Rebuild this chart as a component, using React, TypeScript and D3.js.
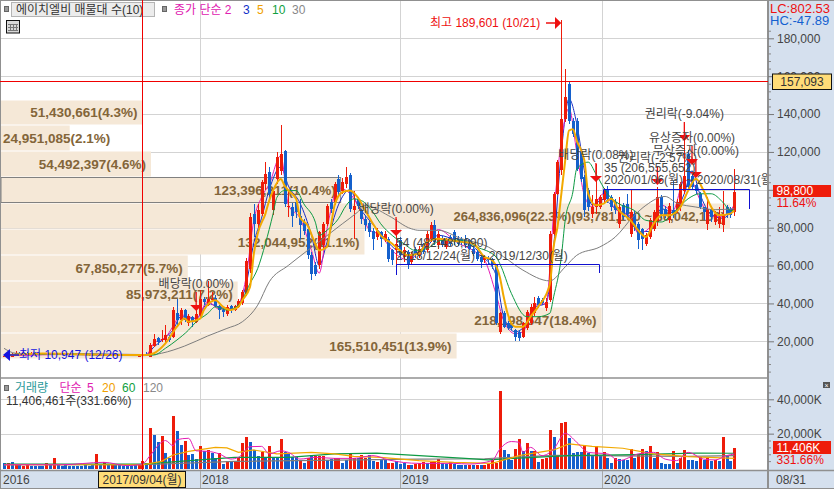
import { useEffect, useRef } from 'react';
import * as d3 from 'd3';

// weekly candles, thousand won
const opens = [
  12.0, 12.4, 11.9, 13.2, 14.0, 13.4, 13.9, 13.5, 13.9, 13.3,
  13.8, 13.4, 13.7, 13.2, 13.6, 13.2, 13.5, 13.0, 13.4, 13.0,
  13.3, 12.8, 13.2, 12.7, 13.1, 12.6, 13.0, 12.6, 12.9, 12.5,
  12.8, 12.4, 12.7, 12.3, 12.6, 12.3, 12.5, 13.5, 11.9, 17.5,
  21.5, 20.7, 20.7, 22.4, 22.4, 34.7, 31.2, 36.5, 29.4, 33.0,
  30.3, 33.8, 42.6, 39.0, 41.8, 43.1, 38.6, 36.5, 34.4, 38.6,
  36.5, 38.2, 40.0, 45.2, 58.0, 87.3, 82.1, 87.3, 103, 109.2,
  89.1, 105.7, 110.1, 120.3, 90.8, 90.8, 93.5, 86.4, 82.9, 79.4,
  65.4, 60.1, 60.1, 70.7, 82.1, 93.5, 93.5, 105.7, 99.6, 103.1,
  108, 89.1, 95.2, 89.1, 84.7, 82.4, 78.5, 75, 77.7, 74.2,
  74.2, 68, 68.1, 73.4, 64.6, 67.2, 62, 69, 65.5, 70.7,
  68.1, 74.2, 81.2, 70.7, 74.2, 69.8, 75, 77.7, 74.2, 74.2,
  74.2, 73.4, 69, 67.2, 64.6, 62.8, 63.7, 62.8, 60.2, 25.1,
  34.8, 29.5, 28.6, 26, 25.1, 22.5, 26.9, 29.5, 34.8, 42.7,
  41.8, 37.4, 42, 76.9, 97.9, 110.2, 137.4, 155.8, 136.5, 136.5,
  120.7, 106.7, 99.7, 87.4, 90.9, 90.9, 94.4, 100.6, 96.2, 93.6,
  82.2, 91.8, 92.7, 76.9, 87.4, 82.2, 79.5, 71.6, 75, 79.5,
  83, 96.1, 90, 83.9, 89.1, 89.1, 90.9, 99.6, 118.9, 107.5,
  102.3, 97.9, 90.9, 82.1, 90, 83, 81.8, 81.2, 90.9, 90,
  88.2,
];
const closes = [
  12.4, 11.8, 13.2, 14.0, 13.4, 13.9, 13.5, 13.9, 13.3, 13.8,
  13.4, 13.7, 13.2, 13.6, 13.2, 13.5, 13.0, 13.4, 13.0, 13.3,
  12.8, 13.2, 12.7, 13.1, 12.6, 13.0, 12.6, 12.9, 12.5, 12.8,
  12.4, 12.7, 12.3, 12.6, 12.3, 12.5, 12.8, 13.0, 18.0, 21.0,
  19.8, 21.4, 23.3, 20.7, 36.5, 31.5, 36.5, 31.2, 33.3, 30.3,
  34.4, 42.6, 40.8, 42.6, 42.6, 38.6, 36.5, 35.6, 38.2, 36.5,
  38.6, 41.4, 46.1, 62.4, 85.9, 82.1, 89.4, 104, 108.4, 97.9,
  99.6, 117.1, 118.9, 92.6, 91.7, 86.4, 88.2, 81.2, 78.5, 65.4,
  55.7, 55.7, 77.7, 82.1, 91.7, 90, 103.1, 98.7, 104, 106.6,
  90, 91.7, 91.7, 84.7, 81.2, 77.7, 74.2, 78.5, 74.2, 76.8,
  63.6, 62.8, 71.6, 65.5, 68.1, 61, 65.5, 65.5, 69, 67.2,
  76.9, 81.2, 72.5, 76.9, 71.6, 73.4, 71.6, 72.5, 71.6, 72.5,
  70.7, 69, 66.3, 63.7, 62, 64.6, 62.8, 60.2, 29.5, 34.8,
  27.7, 26.9, 26.9, 22.5, 21.6, 29.5, 35.6, 38.3, 40, 39.2,
  40, 40.9, 76.9, 97.9, 114.6, 137.4, 148.8, 136.5, 129.5, 111.1,
  105.8, 89.2, 90.9, 90.9, 95.3, 96.2, 99.7, 95.3, 90.9, 89.2,
  90.9, 85.7, 87.4, 88.3, 80.4, 73.4, 74, 76, 84, 88.2,
  96.1, 87.4, 86.5, 91.7, 86.5, 93.5, 103.2, 107.5, 101.4, 101.4,
  99.6, 90.9, 88.2, 90, 85.6, 87.4, 85.6, 86.5, 86.5, 86.5,
  98.8,
];
const highs = [
  12.9, 13.0, 13.8, 14.8, 14.6, 14.5, 14.3, 14.2, 14.1, 14.0,
  14.0, 14.0, 13.9, 13.8, 13.8, 13.7, 13.6, 13.6, 13.5, 13.5,
  13.4, 13.4, 13.3, 13.3, 13.2, 13.2, 13.1, 13.1, 13.0, 13.0,
  12.9, 12.9, 12.8, 12.8, 12.8, 12.7, 13.4, 14.2, 18.9, 23.8,
  22.4, 25.9, 28.6, 23.5, 38.2, 42.6, 37.5, 37, 34.5, 33.5,
  38.2, 47, 43.5, 51.9, 46, 44.5, 39, 37.5, 39, 39,
  39.2, 42.5, 47, 64, 88, 92.6, 92.6, 105, 114.5, 112,
  100.5, 120, 134.3, 121, 99.6, 93, 95.5, 95.2, 84.5, 80,
  67, 62, 78, 83, 92.5, 95, 104, 108, 106, 111.9,
  109, 99.6, 96, 90, 86, 83.5, 80, 80, 78.5, 78,
  75, 69, 84.8, 75, 70, 68, 67, 70, 70.5, 72,
  78, 83, 83.9, 78, 75.5, 74.5, 76, 79, 75.5, 75,
  76, 74, 70, 68, 65.5, 65.5, 65, 64, 61, 35.5,
  36, 30.5, 29.5, 26.5, 26, 30, 36.5, 39.5, 43.5, 44,
  43, 43, 78, 99, 116, 189.6, 163.9, 157.5, 138, 138,
  121.5, 108, 101, 97, 113.7, 97, 101, 102, 97.5, 95,
  96.2, 93, 97.9, 99.7, 89, 83, 80, 77, 85, 89.5,
  101.4, 97, 91.5, 93, 104.9, 95, 104, 134.7, 121, 110,
  103, 99, 91, 96.1, 91, 89, 90.9, 99.6, 92, 91,
  111,
];
const lows = [
  11.5, 10.9, 11.6, 12.8, 13.0, 13.1, 13.2, 13.2, 13.1, 13.0,
  13.2, 13.1, 13.0, 13.0, 13.0, 13.0, 12.8, 12.9, 12.8, 12.8,
  12.6, 12.6, 12.5, 12.5, 12.4, 12.4, 12.4, 12.4, 12.3, 12.3,
  12.2, 12.2, 12.0, 12.0, 12.1, 12.0, 12.3, 12.8, 11.5, 16.8,
  18, 19.5, 18.9, 19.8, 21.5, 27.7, 28.5, 30, 28.2, 27.7,
  29.5, 33, 39, 38.5, 41, 38, 32, 32.6, 33.5, 35,
  36, 37.5, 39, 44, 56, 75, 80, 86, 100, 95,
  86.5, 103, 108, 91, 85.6, 80.3, 85, 74.2, 76, 63.5,
  52.2, 54.5, 58, 69, 81, 88, 92, 97, 98, 101,
  88.5, 74.2, 90, 82, 78, 75, 68, 73.5, 70, 72.5,
  62, 60.1, 60, 63, 62, 58.4, 60.5, 64, 64, 66,
  67, 72.5, 71, 69, 70, 68.5, 70.5, 71, 70.5, 71,
  69.5, 68, 65, 62.5, 58.5, 61.5, 61, 58, 28.5, 24,
  27, 26, 26, 19.9, 20, 21.5, 26, 28.5, 33.5, 37.5,
  39, 36, 41, 76, 97, 108, 136, 135, 128, 110,
  104, 85.7, 89, 85, 87, 90, 93, 93, 89, 87,
  80, 84, 85, 75, 78, 69, 68, 70.5, 74, 78,
  81, 85, 85, 82.5, 85, 88, 89, 98, 100, 100,
  98, 90, 84, 79, 83, 81.5, 80, 77.7, 85, 85,
  86,
];

// weekly volume, million shares
const volumes = [
  2.9, 2.7, 3.3, 1.9, 1.9, 1.2, 1.7, 1.4, 1.4, 1.4,
  1.2, 2.7, 2.3, 5.8, 1.9, 1.4, 1.6, 1.2, 1.4, 1.2,
  1.4, 1.6, 1.4, 1.7, 8.2, 2.3, 3.3, 2.3, 1.9, 1.6,
  1.6, 1.2, 1.2, 1.0, 1.9, 1.6, 4.3, 2.7, 23.3, 19.2,
  15.0, 18.7, 8.7, 5.8, 30.3, 21.6, 13.4, 15.6, 7.6, 8.2,
  5.2, 12.8, 9.7, 10.5, 8.6, 5.8, 8.6, 2.3, 3.9, 3.3,
  3.7, 5.8, 14.6, 18.1, 15.2, 10.5, 7.0, 9.1, 6.2, 12.8,
  6.6, 6.6, 16.9, 9.1, 8.2, 6.2, 6.2, 4.7, 2.9, 5.8,
  7.8, 7.2, 7.2, 7.2, 4.9, 5.1, 5.8, 5.8, 2.7, 4.9,
  8.2, 5.8, 5.8, 7.8, 5.8, 7.4, 4.3, 3.5, 4.7, 4.7,
  3.1, 3.1, 3.9, 2.3, 2.7, 1.6, 1.9, 2.3, 2.7, 3.3,
  2.9, 3.5, 3.9, 5.2, 2.9, 2.5, 3.3, 2.3, 1.9, 1.7,
  1.6, 1.9, 1.6, 1.6, 1.7, 1.9, 2.3, 4.9, 2.9, 45.1,
  10.5, 8.2, 4.9, 11.1, 16.9, 9.7, 14.6, 9.7, 9.7, 3.5,
  5.4, 5.8, 22.2, 18.1, 6.8, 26.2, 26.8, 17.5, 8.7, 9.1,
  9.3, 13.4, 8.6, 6.8, 12.8, 6.8, 9.3, 5.8, 2.7, 5.8,
  5.1, 4.9, 4.7, 10.9, 5.8, 7.8, 11.1, 9.7, 12.8, 5.8,
  9.1, 2.9, 2.3, 2.3, 9.7, 2.9, 5.8, 10.5, 4.9, 4.5,
  3.9, 6.2, 4.7, 5.8, 3.9, 4.7, 4.3, 17.9, 7.0, 4.3,
  11.406,
];
const redVolumeWeeks = [
  1, 3, 5, 6, 11, 13, 24, 26, 28, 35, 36, 38, 41, 44, 47, 51, 53, 56, 58, 60, 61, 62, 63, 67, 69, 72, 77, 79, 81, 82, 83,
  86, 87, 90, 91, 93, 94, 97, 100, 101, 105, 107, 108, 109, 111, 112, 113, 116, 121, 123, 125, 126, 127, 128, 129, 133, 134,
  136, 138, 140, 141, 142, 144, 145, 146, 151, 154, 156, 159, 163, 165, 166, 168, 170, 174, 176, 177, 181, 183, 185, 187, 190,
];

// price moving averages at these weeks
const ma5Weeks = [0, 10, 20, 30, 37, 39, 42, 45, 47, 48, 51, 52, 55, 57, 59, 61, 62, 64, 65, 66, 68, 69, 70, 72, 73, 74, 76, 77, 79, 81, 82, 84, 85, 86, 88, 90, 92, 94, 96, 98, 101, 103, 105, 108, 110, 113, 116, 119, 122, 125, 127, 129, 130, 131, 133, 135, 137, 139, 142, 143, 144, 145, 146, 147, 148, 149, 151, 152, 154, 156, 158, 160, 163, 165, 167, 169, 171, 173, 176, 178, 180, 182, 184, 186, 189, 190];
const ma5 = [12.5, 13.6, 13.2, 12.7, 12.8, 13.7, 18.9, 27.7, 32, 30.3, 32, 36.5, 41.7, 38.2, 36.5, 38.2, 41.7, 48.7, 66.3, 76.8, 87.3, 94.3, 99.6, 105.7, 102.2, 99.6, 95.2, 85.6, 81.2, 71.5, 68, 69.8, 80.3, 91.7, 98.7, 99.6, 96.1, 89.1, 82.1, 75.9, 71.5, 68, 65.5, 66.3, 72.5, 74.2, 73.4, 72.5, 71.6, 64.6, 62.8, 54, 43.5, 34.8, 27.7, 27.7, 33, 38.3, 50, 70, 80.4, 97.9, 115.4, 131.3, 132, 126, 115.5, 97.9, 91.8, 92.7, 95.3, 89.2, 83.9, 78.6, 75.1, 82, 86.5, 86.5, 90.9, 99.6, 105.8, 99.6, 90.9, 86.5, 87.4, 89.1];
const ma10Weeks = [0, 15, 30, 37, 39, 42, 45, 48, 50, 53, 55, 58, 61, 64, 66, 68, 70, 71, 73, 76, 78, 81, 82, 84, 87, 89, 91, 93, 96, 98, 101, 104, 107, 110, 114, 119, 123, 128, 129, 132, 136, 139, 142, 143, 145, 146, 148, 149, 152, 154, 157, 160, 164, 167, 171, 174, 178, 181, 184, 187, 189, 190];
const ma10 = [13, 13.4, 13, 12.9, 12.8, 16.3, 20.7, 25.9, 30.3, 34.7, 38.2, 36.5, 39.1, 50.5, 58.4, 71.5, 87.3, 96, 99.6, 99.6, 92.6, 82.9, 75.9, 78.6, 84.7, 91.7, 95.2, 94.3, 88.2, 82.1, 75.9, 71.6, 68, 69, 73.4, 73.4, 69.8, 64.6, 61, 45.3, 33, 33, 34.8, 43.5, 64.6, 83.9, 98.8, 111, 114.6, 108.4, 97.9, 92.6, 89.1, 83.9, 83, 87.4, 95.3, 97.9, 97.9, 93.5, 89.1, 89];
const ma30Weeks = [0, 3, 20, 36, 41, 47, 53, 58, 62, 66, 69, 74, 79, 83, 88, 92, 94, 100, 106, 108, 113, 119, 126, 130, 135, 142, 146, 149, 155, 159, 164, 167, 172, 175, 180, 185, 190];
const ma30 = [16.3, 13.7, 12.8, 12.4, 13.7, 17.5, 22.8, 26.8, 30.3, 39.1, 51.4, 60.1, 68, 74.2, 82, 88.2, 91.7, 86.4, 79.4, 78.6, 78.6, 74.2, 69.8, 64.6, 57.6, 51.9, 59.3, 65.4, 69.8, 75, 86.5, 91.8, 96.5, 93, 90.9, 89.5, 90];
const ma3Weeks = [0, 20, 37, 39, 42, 44, 46, 50, 53, 56, 60, 63, 65, 67, 69, 72, 74, 77, 80, 82, 84, 87, 90, 92, 95, 98, 101, 105, 110, 113, 118, 122, 125, 128, 130, 133, 135, 138, 141, 143, 145, 147, 149, 151, 153, 156, 159, 163, 165, 168, 171, 174, 177, 179, 181, 184, 187, 190];
const ma3 = [12.5, 13.3, 13, 17, 22, 26, 33, 32, 40, 38, 37, 50, 72, 85, 100, 112, 102, 93, 76, 60, 72, 92, 100, 92, 84, 77, 70, 65, 70, 76, 73, 70, 64, 55, 33, 25, 27, 38, 40, 70, 120, 148, 135, 110, 92, 95, 90, 85, 78, 78, 90, 88, 98, 110, 98, 87, 85, 91];
const ma2Weeks = [0, 20, 37, 39, 42, 44, 46, 50, 53, 56, 60, 63, 65, 67, 69, 72, 74, 77, 80, 82, 84, 87, 90, 92, 95, 98, 101, 105, 110, 113, 118, 122, 125, 128, 130, 133, 135, 138, 141, 143, 145, 147, 149, 151, 153, 156, 159, 163, 165, 168, 171, 174, 177, 179, 181, 184, 187, 190];
const ma2 = [12.3, 13.1, 13, 19, 22, 28, 34, 32, 41, 37, 37, 54, 84, 96, 103, 118, 92, 85, 68, 56, 79, 101, 98, 92, 79, 76, 68, 63, 72, 79, 72, 68, 63, 45, 31, 24, 25, 39, 40, 87, 126, 143, 120, 97, 91, 98, 90, 86, 77, 80, 92, 89, 105, 104, 95, 86, 86, 92];

// volume moving averages, million shares
const volMa5Weeks = [0, 15, 26, 32, 36, 38, 41, 42, 44, 45, 48, 50, 53, 56, 59, 61, 64, 67, 69, 72, 74, 77, 81, 86, 91, 96, 100, 108, 117, 121, 127, 129, 132, 134, 135, 137, 140, 143, 146, 149, 152, 157, 160, 165, 169, 172, 175, 178, 182, 185, 188, 190];
const volMa5 = [1.9, 1.9, 3.3, 1.4, 2.3, 7.2, 15, 16, 13, 16.5, 17.3, 10, 9.7, 8.2, 5.2, 6.2, 12.4, 12.6, 8.2, 10, 9.1, 5.2, 6.2, 5.6, 5.6, 7.2, 4.7, 2.7, 2.7, 2.3, 4.3, 11, 15.4, 15, 9.1, 12, 7.2, 11, 20.2, 15, 9.1, 8.2, 4.3, 8.2, 9.1, 5.2, 4.3, 9.1, 5.2, 4.7, 7.2, 8.2];
const volMa20Weeks = [0, 36, 41, 44, 48, 55, 58, 61, 65, 71, 80, 86, 91, 98, 108, 117, 127, 134, 143, 147, 153, 161, 169, 178, 190];
const volMa20 = [1.9, 1.9, 3.9, 7.6, 9.7, 12, 11.7, 9.1, 10.5, 8.2, 9.1, 8.2, 6.8, 6.2, 4.3, 3.3, 2.7, 7.2, 10.5, 14, 12.6, 11.5, 8.2, 6.6, 5.6];
const volMa60Weeks = [0, 36, 51, 60, 74, 86, 97, 108, 120, 126, 134, 147, 164, 180, 190];
const volMa60 = [2.3, 2.3, 4.7, 6.2, 6.2, 8.2, 8.7, 7.2, 5.6, 4.7, 5.8, 7.2, 7.8, 8.7, 8.6];
const volMa120Weeks = [0, 36, 60, 108, 125, 143, 178, 190];
const volMa120 = [1.9, 1.9, 3.9, 5.2, 5.4, 7.4, 6.8, 7.2];

// volume profile, bottom band first
const bandEdges = [10.7, 24.4, 38.1, 51.8, 65.6, 79.3, 93.0, 106.8, 120.5, 134, 147.5];
const bandVolumes = [165.510451, 218.198547, 85.973211, 67.850277, 132.044952, 264.836096, 123.396211, 54.492397, 24.951085, 51.430661];
const bandLabels = [
  '165,510,451(13.9%)', '218,198,547(18.4%)', '85,973,211(7.2%)', '67,850,277(5.7%)', '132,044,952(11.1%)',
  '264,836,096(22.3%)(93,781,100 ~ 80,042,100)', '123,396,211(10.4%)', '54,492,397(4.6%)', '24,951,085(2.1%)', '51,430,661(4.3%)',
];

const priceTicks = [20, 40, 60, 80, 100, 120, 140, 160, 180];
const priceMinorTicks = d3.range(4, 192, 4);
const volumeTicks = [20, 40];
const volumeMinorTicks = d3.range(4, 52, 4);
const yearWeeks = [51, 103, 155.6];
const yearLabels = ['2018', '2019', '2020'];

const eventLabels = ['배당락(0.00%)', '배당락(0.00%)', '배당락(0.08%)', '권리락(-2.57%)', '권리락(-9.04%)', '유상증자(0.00%)', '무상증자(0.00%)'];
const eventWeeks = [50, 102, 154, 170, 177, 179, 180];

const FONT = '"Liberation Sans","Noto Sans CJK KR",sans-serif';
const RED = '#ee1c0a';
const BLUE = '#1460cc';
const PANEL = '#d5e0ee';
const WIDTH = 834;
const HEIGHT = 489;
const PLOT_RIGHT = 768;

export default function App() {
  const svgRef = useRef<SVGSVGElement>(null);

  useEffect(() => {
    if (!svgRef.current) return;

    const svg = d3.select(svgRef.current);
    svg.selectAll('*').remove();
    svg.attr('width', WIDTH).attr('height', HEIGHT).style('font-family', FONT);

    const x = d3.scaleLinear().domain([0, opens.length - 1]).range([4, 734.3]);
    const y = d3.scaleLinear().domain([20, 180]).range([341.3, 38.3]);
    const yVol = d3.scaleLinear().domain([0, 40]).range([468, 399.3]);
    const bandX = d3.scaleLinear().domain([0, 264.836096]).range([0, 729]);

    const label = (
      text: string, tx: number, ty: number, color: string,
      size = 12, anchor = 'start', weight = 'normal',
    ) => svg.append('text')
      .attr('x', tx).attr('y', ty + size * 0.36)
      .attr('fill', color).attr('font-size', size)
      .attr('font-weight', weight).attr('text-anchor', anchor)
      .text(text);

    const hline = (x1: number, x2: number, ly: number, color: string, w = 1) => svg.append('line')
      .attr('x1', x1).attr('x2', x2).attr('y1', ly).attr('y2', ly)
      .attr('stroke', color).attr('stroke-width', w);
    const vline = (lx: number, y1: number, y2: number, color: string, w = 1) => svg.append('line')
      .attr('x1', lx).attr('x2', lx).attr('y1', y1).attr('y2', y2)
      .attr('stroke', color).attr('stroke-width', w);

    svg.append('rect').attr('width', WIDTH).attr('height', HEIGHT).attr('fill', '#fff');

    // grid
    priceTicks.forEach(t => hline(0, PLOT_RIGHT, Math.round(y(t)) + 0.5, '#d3d3d3'));
    volumeTicks.forEach(t => hline(0, PLOT_RIGHT, Math.round(yVol(t)) + 0.5, '#d3d3d3'));
    yearWeeks.forEach(w => vline(Math.round(x(w)) + 0.5, 0, 470, '#d3d3d3'));

    // volume profile bands sit on the grid and under the candles
    bandVolumes.forEach((v, i) => {
      const top = Math.round(y(bandEdges[i + 1]));
      const bottom = Math.round(y(bandEdges[i]));
      svg.append('rect')
        .attr('x', 1).attr('y', top + 0.5)
        .attr('width', bandX(v)).attr('height', bottom - top - 1)
        .attr('fill', '#f5e8d7')
        .attr('stroke', i === 6 ? '#808080' : 'none');
    });
    bandVolumes.forEach((v, i) => {
      const mid = (y(bandEdges[i + 1]) + y(bandEdges[i])) / 2;
      const w = bandX(v);
      const size = i === 5 ? 13 : 13.5;
      if (w < 100) label(bandLabels[i], 3, mid, '#836539', size, 'start', 'bold');
      else label(bandLabels[i], w - 4, mid, '#836539', size, 'end', 'bold');
    });

    const drawMa = (weeks: number[], values: number[], scale: d3.ScaleLinear<number, number>, color: string, w = 1, curved = true) => {
      const line = d3.line<number>()
        .x(d => x(d))
        .y((_, i) => scale(values[i]))
        .curve(curved ? d3.curveMonotoneX : d3.curveLinear);
      svg.append('path').attr('d', line(weeks))
        .attr('fill', 'none').attr('stroke', color).attr('stroke-width', w);
    };

    drawMa(ma3Weeks, ma3, y, '#1a2cc4');
    drawMa(ma2Weeks, ma2, y, '#e41cb4');

    // candles
    const candles = svg.append('g').attr('shape-rendering', 'crispEdges');
    opens.forEach((o, i) => {
      const c = closes[i];
      const color = c >= o ? RED : BLUE;
      const cx = Math.round(x(i));
      candles.append('line')
        .attr('x1', cx + 0.5).attr('x2', cx + 0.5)
        .attr('y1', y(highs[i])).attr('y2', y(lows[i]))
        .attr('stroke', color);
      candles.append('rect')
        .attr('x', cx - 1).attr('width', 3)
        .attr('y', y(Math.max(o, c)))
        .attr('height', Math.max(1, Math.abs(y(o) - y(c))))
        .attr('fill', color);
    });

    drawMa(ma30Weeks, ma30, y, '#7d7d7d');
    drawMa(ma10Weeks, ma10, y, '#0e9a44');
    drawMa(ma5Weeks, ma5, y, '#f2a900', 2);

    // high and low callouts
    label('최고 189,601 (10/21)', 430, 23, '#ee1010');
    hline(546, 555, 23, '#ee1010', 1.5);
    svg.append('path').attr('fill', '#ee1010')
      .attr('d', d3.line()([[555, 17], [x(145), 23], [555, 29]]) + 'Z');
    label('최저 10,947 (12/26)', 19, 355, '#1414e0');
    hline(10, 19, 355, '#1414e0', 1.5);
    svg.append('path').attr('fill', '#1414e0')
      .attr('d', d3.line()([[10, 349], [x(0) - 1, 355], [10, 361]]) + 'Z');

    // corporate events
    const eventLabelY = [284, 209, 155, 158, 114, 138, 151];
    eventLabels.forEach((text, i) => {
      const ex = x(eventWeeks[i]);
      const ly = eventLabelY[i];
      vline(ex, ly + 8, ly + 24, '#ee1010', 1.3);
      svg.append('path').attr('fill', '#ee1010')
        .attr('d', d3.line()([[ex - 6, ly + 21], [ex + 6, ly + 21], [ex, ly + 27]]) + 'Z');
      label(text, ex, ly, '#454545', 12, 'middle');
    });

    // selected ranges
    label('54 (482,480,090)', 396, 243, '#454545');
    label('2018/12/24(월) ~ 2019/12/30(월)', 396, 256, '#454545');
    svg.append('path').attr('fill', 'none').attr('stroke', '#1010d0')
      .attr('d', d3.line()([[396.5, 275], [396.5, 264.5], [599.5, 264.5], [599.5, 273]]));
    label('35 (206,555,652)', 604, 168, '#454545');
    label('2020/01/06(월) ~ 2020/08/31(월)', 604, 180, '#454545');
    svg.append('path').attr('fill', 'none').attr('stroke', '#1010d0')
      .attr('d', d3.line()([[603.5, 194], [603.5, 189.5], [749.5, 189.5], [749.5, 209]]));

    // volume bars
    const redWeeks = new Set(redVolumeWeeks);
    const volBars = svg.append('g').attr('shape-rendering', 'crispEdges');
    volumes.forEach((v, i) => {
      const cx = Math.round(x(i));
      volBars.append('rect')
        .attr('x', cx - 1).attr('width', 3)
        .attr('y', yVol(v)).attr('height', 469 - yVol(v))
        .attr('fill', redWeeks.has(i) ? RED : BLUE);
    });
    drawMa(volMa120Weeks, volMa120, yVol, '#7d7d7d', 1.2, false);
    drawMa(volMa60Weeks, volMa60, yVol, '#0e9a44', 1.2, false);
    drawMa(volMa20Weeks, volMa20, yVol, '#f2a900', 1.2, false);
    drawMa(volMa5Weeks, volMa5, yVol, '#e41cb4', 1, true);

    // top legends
    svg.append('rect').attr('x', 11.5).attr('y', 2.5).attr('width', 143).attr('height', 14)
      .attr('fill', '#ececec').attr('stroke', '#b4b4b4');
    label('에이치엘비 매물대 수(10)', 16, 9.5, '#333');
    [4, 162].forEach(sx => svg.append('rect').attr('x', sx + 0.5).attr('y', 6.5).attr('width', 4).attr('height', 5)
      .attr('fill', '#999').attr('stroke', '#666'));
    label('종가 단순 2', 174, 9.5, '#e020b0');
    label('3', 243, 9.5, '#1030c8');
    label('5', 257, 9.5, '#f0a000');
    label('10', 272, 9.5, '#10a040');
    label('30', 292, 9.5, '#888');

    svg.append('rect').attr('x', 6.5).attr('y', 20.5).attr('width', 13).attr('height', 12.5)
      .attr('fill', '#d8d8d8').attr('stroke', '#111');
    [24, 27, 30].forEach(ly => hline(8, 18, ly + 0.5, '#777'));
    [10, 13, 16].forEach(lx => vline(lx + 0.5, 24, 31, '#777'));

    svg.append('rect').attr('x', 4.5).attr('y', 385.5).attr('width', 4).attr('height', 5)
      .attr('fill', '#999').attr('stroke', '#666');
    label('거래량', 15, 387.5, '#2b9a9a');
    label('단순', 59.5, 387.5, '#e020b0');
    label('5', 87, 387.5, '#e020b0');
    label('20', 102, 387.5, '#f0a000');
    label('60', 122, 387.5, '#10a040');
    label('120', 143, 387.5, '#888');
    label('11,406,461주(331.66%)', 6, 400.5, '#333');

    // date band and right axis panel
    svg.append('rect').attr('x', 0).attr('y', 470).attr('width', WIDTH).attr('height', 19).attr('fill', PANEL);
    svg.append('rect').attr('x', PLOT_RIGHT).attr('y', 0).attr('width', WIDTH - PLOT_RIGHT).attr('height', HEIGHT).attr('fill', PANEL);
    hline(0, WIDTH, 0.5, '#909090', 1);
    vline(0.5, 0, HEIGHT, '#909090', 1);
    hline(0, PLOT_RIGHT, 378, '#909090', 1.5);
    hline(0, WIDTH, 470.5, '#909090', 1.5);
    hline(0, WIDTH, 488.5, '#909090', 1);
    vline(PLOT_RIGHT, 0, HEIGHT, '#909090', 2);
    yearWeeks.forEach(w => vline(Math.round(x(w)) + 0.5, 471, 488, '#a8a8a8'));

    label('2016', 3, 479.5, '#444');
    yearWeeks.forEach((w, i) => label(yearLabels[i], Math.round(x(w)) + 2, 479.5, '#444'));
    label('08/31', 776, 479.5, '#444');

    const drawAxis = (scale: d3.ScaleLinear<number, number>, ticks: number[], minors: number[], format: (v: number) => string) => {
      const g = svg.append('g').attr('transform', `translate(${PLOT_RIGHT},0)`);
      g.call(d3.axisRight(scale).tickValues(ticks).tickSize(6).tickPadding(3).tickFormat(format as any));
      g.select('.domain').remove();
      g.selectAll('line').attr('stroke', '#777');
      g.selectAll('text').attr('fill', '#444').attr('font-size', 12).attr('font-family', FONT);
      const minor = svg.append('g').attr('transform', `translate(${PLOT_RIGHT},0)`);
      minor.call(d3.axisRight(scale).tickValues(minors).tickSize(3).tickFormat(() => ''));
      minor.select('.domain').remove();
      minor.selectAll('line').attr('stroke', '#888');
    };
    drawAxis(y, priceTicks, priceMinorTicks.filter(t => y(t) > 28 && t % 20 !== 0), v => d3.format(',')(v * 1000));
    drawAxis(yVol, volumeTicks, volumeMinorTicks.filter(t => t % 20 !== 0), v => `${d3.format(',')(v * 1000)}K`);

    label('LC:802.53', 770, 8, '#ee1010', 13);
    label('HC:-47.89', 770, 20, '#1460d0', 13);

    svg.append('rect').attr('x', 772.5).attr('y', 74).attr('width', 59).attr('height', 15.5)
      .attr('fill', '#ffdc78').attr('stroke', '#111');
    label('157,093', 802, 81.5, '#333', 12, 'middle');

    svg.append('rect').attr('x', 773).attr('y', 185).attr('width', 58).attr('height', 12).attr('fill', RED);
    label('98,800', 776.5, 191, '#fff');
    label('11.64%', 776.5, 203, '#ee1010');

    svg.append('rect').attr('x', 773).attr('y', 441).attr('width', 58).attr('height', 13).attr('fill', RED);
    label('11,406K', 776.5, 447.5, '#fff');
    label('331.66%', 776.5, 460, '#ee1010');

    svg.append('rect').attr('x', 823).attr('y', 382).attr('width', 7).attr('height', 6).attr('fill', '#555');
    label('×', 826.5, 385, '#fff', 7, 'middle');

    // crosshair on top of everything in the plot
    hline(0, PLOT_RIGHT, 81.5, '#f00000');
    vline(142.5, 0, 470, '#f00000');
    svg.append('rect').attr('x', 98.5).attr('y', 471.5).attr('width', 87).attr('height', 16)
      .attr('fill', '#ffdc78').attr('stroke', '#111');
    label('2017/09/04(월)', 142, 479.5, '#333', 12, 'middle');
  }, []);

  return <svg ref={svgRef} style={{ position: 'absolute', left: 0, top: 0, display: 'block' }} />;
}
